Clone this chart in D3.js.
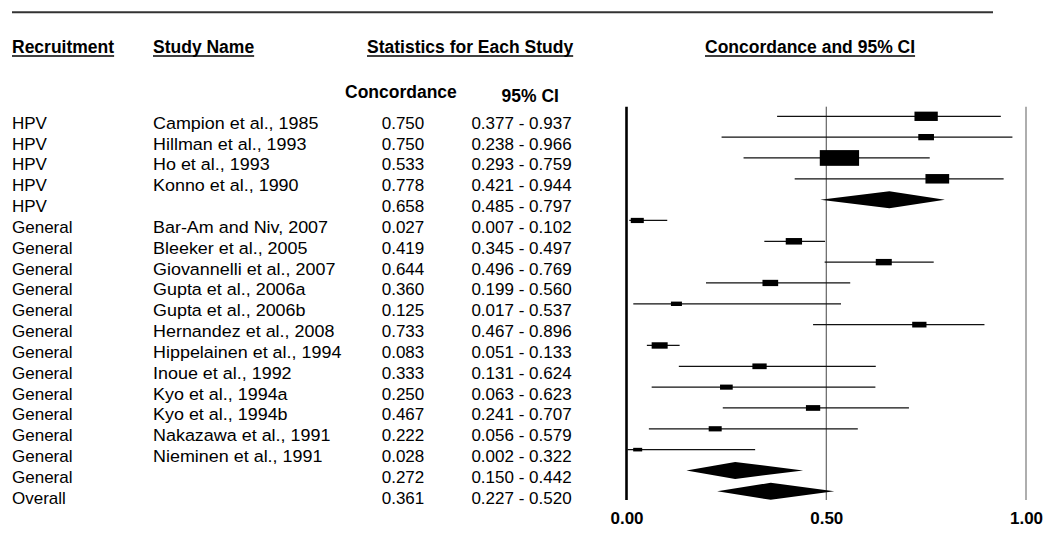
<!DOCTYPE html>
<html>
<head>
<meta charset="utf-8">
<script src="https://cdn.jsdelivr.net/npm/d3@7"></script>
<style>
  html, body { margin: 0; padding: 0; background: #fff; }
  svg { display: block; }
  text { font-family: "Liberation Sans", Arial, Helvetica, sans-serif; fill: #000; }
</style>
</head>
<body>
<svg id="chart" width="1050" height="540"></svg>
<script>
// ---- data ----
const recruitment = ["HPV","HPV","HPV","HPV","HPV",
  "General","General","General","General","General","General","General",
  "General","General","General","General","General","General","Overall"];
const studyNames = ["Campion et al., 1985","Hillman et al., 1993","Ho et al., 1993","Konno et al., 1990","",
  "Bar-Am and Niv, 2007","Bleeker et al., 2005","Giovannelli et al., 2007","Gupta et al., 2006a",
  "Gupta et al., 2006b","Hernandez et al., 2008","Hippelainen et al., 1994","Inoue et al., 1992",
  "Kyo et al., 1994a","Kyo et al., 1994b","Nakazawa et al., 1991","Nieminen et al., 1991","",""];
const concordance = [0.750,0.750,0.533,0.778,0.658,0.027,0.419,0.644,0.360,0.125,0.733,0.083,0.333,0.250,0.467,0.222,0.028,0.272,0.361];
const ciLower = [0.377,0.238,0.293,0.421,0.485,0.007,0.345,0.496,0.199,0.017,0.467,0.051,0.131,0.063,0.241,0.056,0.002,0.150,0.227];
const ciUpper = [0.937,0.966,0.759,0.944,0.797,0.102,0.497,0.769,0.560,0.537,0.896,0.133,0.624,0.623,0.707,0.579,0.322,0.442,0.520];
// relative study weights (box area), null for summary rows
const weights = [543,246,1544,562,null,169,266,256,246,121,204,256,204,161,204,169,81,null,null];
const axisTicks = [0, 0.5, 1];

const headers = [
  {text: "Recruitment", x: 12},
  {text: "Study Name", x: 153},
  {text: "Statistics for Each Study", x: 367},
  {text: "Concordance and 95% CI", x: 705}
];

// ---- build ----
const svg = d3.select("#chart");
const rows = concordance.map((c, i) => ({
  i, rec: recruitment[i], name: studyNames[i], est: c, lo: ciLower[i], hi: ciUpper[i],
  w: weights[i], summary: weights[i] == null
}));

const x = d3.scaleLinear().domain([0, 1]).range([626.5, 1026]);
const y = d3.scalePoint().domain(rows.map(d => d.i)).range([116.3, 491.3]);
const boxW = d3.scaleSqrt().domain([0, d3.max(weights)]).range([0, 39.3]);
const fmt = d3.format(".3f");
const plotTop = 106.7, plotBottom = 500;

// top rule
svg.append("line").attr("x1", 12).attr("x2", 993).attr("y1", 12.3).attr("y2", 12.3)
  .attr("stroke", "#333").attr("stroke-width", 2);

// headers
const hg = svg.append("g");
headers.forEach(h => {
  const t = hg.append("text").attr("x", h.x).attr("y", 53.3)
    .attr("font-size", 17.5).attr("font-weight", "bold").text(h.text);
  const len = t.node().getComputedTextLength();
  hg.append("line").attr("x1", h.x).attr("x2", h.x + len).attr("y1", 56).attr("y2", 56)
    .attr("stroke", "#000").attr("stroke-width", 1.6);
});
svg.append("text").attr("x", 345).attr("y", 97.5).attr("font-size", 17.5).attr("font-weight", "bold").text("Concordance");
svg.append("text").attr("x", 501.5).attr("y", 101.7).attr("font-size", 17.5).attr("font-weight", "bold").text("95% CI");

// table text
const tg = svg.append("g").attr("font-size", 17);
const textY = d => y(d.i) + 12.5;
tg.selectAll("text.rec").data(rows).join("text").attr("class", "rec")
  .attr("x", 12).attr("y", textY).text(d => d.rec);
tg.selectAll("text.name").data(rows).join("text").attr("class", "name")
  .attr("transform", d => `translate(153,${textY(d)}) scale(1.055,1)`).text(d => d.name);
tg.selectAll("text.est").data(rows).join("text").attr("class", "est")
  .attr("x", 403).attr("y", textY).attr("text-anchor", "middle").text(d => fmt(d.est));
tg.selectAll("text.ci").data(rows).join("text").attr("class", "ci")
  .attr("x", 521.5).attr("y", textY).attr("text-anchor", "middle").text(d => fmt(d.lo) + " - " + fmt(d.hi));

// reference lines
const refStyle = {0: ["#000", 2.6], 0.5: ["#444", 1], 1: ["#9a9a9a", 1.6]};
svg.append("g").selectAll("line").data(axisTicks).join("line")
  .attr("x1", d => x(d)).attr("x2", d => x(d)).attr("y1", plotTop).attr("y2", plotBottom)
  .attr("stroke", d => refStyle[d][0]).attr("stroke-width", d => refStyle[d][1]);

// axis labels
const axis = d3.axisBottom(x).tickValues(axisTicks).tickFormat(d3.format(".2f")).tickSize(0).tickPadding(0);
const ag = svg.append("g").attr("transform", `translate(0, ${plotBottom + 10.5})`).call(axis);
ag.select(".domain").remove();
ag.selectAll("text").attr("font-size", 17).attr("font-weight", "bold")
  .attr("font-family", '"Liberation Sans", Arial, sans-serif').attr("fill", "#000").attr("dy", "0.8em");

// study marks
const studies = rows.filter(d => !d.summary);
const mg = svg.append("g");
mg.selectAll("line.ci").data(studies).join("line").attr("class", "ci")
  .attr("x1", d => x(d.lo)).attr("x2", d => x(d.hi)).attr("y1", d => y(d.i)).attr("y2", d => y(d.i))
  .attr("stroke", "#111").attr("stroke-width", 1.3);
mg.selectAll("rect").data(studies).join("rect")
  .attr("x", d => x(d.est) - boxW(d.w) / 2)
  .attr("y", d => y(d.i) - boxW(d.w) / 2.5 / 2)
  .attr("width", d => boxW(d.w)).attr("height", d => boxW(d.w) / 2.5)
  .attr("fill", "#000");

// summary diamonds
const dh = 8.5;
mg.selectAll("path.diamond").data(rows.filter(d => d.summary)).join("path").attr("class", "diamond")
  .attr("d", d => {
    const cy = y(d.i);
    return `M${x(d.lo)},${cy} L${x(d.est)},${cy - dh} L${x(d.hi)},${cy} L${x(d.est)},${cy + dh} Z`;
  })
  .attr("fill", "#000");
</script>
</body>
</html>
